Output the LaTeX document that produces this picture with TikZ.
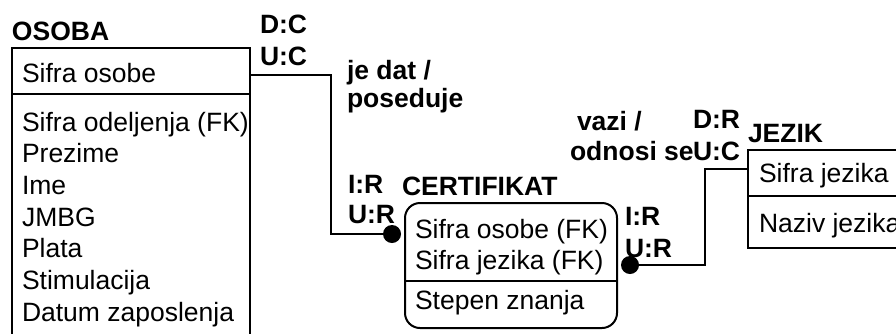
\documentclass[tikz,border=0pt]{standalone}
\usepackage{fontspec}
\setmainfont{Liberation Sans}
\begin{document}
\begin{tikzpicture}[x=1pt,y=-1pt,
  every node/.style={inner sep=0pt,outer sep=0pt},
  txt/.style={anchor=base west,font=\fontsize{26.5}{31}\selectfont},
  lbl/.style={anchor=base west,font=\fontsize{26.5}{31}\selectfont\bfseries},
  entbox/.style={draw,line width=2pt,anchor=north west},
  dot/.style={circle,fill=black,minimum size=18pt},
  conn/.style={line width=2pt}]
\useasboundingbox (0,0) rectangle (896,333);
\clip (0,0) rectangle (896,333);
% OSOBA
\node[lbl] (tosoba) at (12,40) {OSOBA};
\node[entbox,minimum width=238pt,minimum height=320pt] (osoba) at (12,48) {};
\draw[line width=2pt] ([yshift=-46pt]osoba.north west) -- ([yshift=-46pt]osoba.north east);
\node[txt] (o0) at (22,82) {Sifra osobe};
\node[txt] (o1) at (22,131) {Sifra odeljenja (FK)};
\node[txt] (o2) at (22,162.7) {Prezime};
\node[txt] (o3) at (22,194.4) {Ime};
\node[txt] (o4) at (22,226.1) {JMBG};
\node[txt] (o5) at (22,257.8) {Plata};
\node[txt] (o6) at (22,289.5) {Stimulacija};
\node[txt] (o7) at (22,321.2) {Datum zaposlenja};
% CERTIFIKAT
\node[lbl] (tcert) at (402,195) {CERTIFIKAT};
\node[entbox,rounded corners=15pt,minimum width=212pt,minimum height=125pt] (cert) at (405,203) {};
\draw[line width=2pt] ([yshift=-78pt]cert.north west) -- ([yshift=-78pt]cert.north east);
\node[txt] (c0) at (415,238) {Sifra osobe (FK)};
\node[txt] (c1) at (415,269) {Sifra jezika (FK)};
\node[txt] (c2) at (415,309) {Stepen znanja};
% JEZIK
\node[lbl] (tjez) at (748,142) {JEZIK};
\node[entbox,minimum width=200pt,minimum height=98pt] (jezik) at (748,150) {};
\draw[line width=2pt] ([yshift=-46pt]jezik.north west) -- ([yshift=-46pt]jezik.north east);
\node[txt] (j0) at (759,182) {Sifra jezika};
\node[txt] (j1) at (759,232) {Naziv jezika};
% relationship 1
\node[lbl] (dc) at (260,33) {D:C};
\node[lbl] (uc) at (260,65) {U:C};
\node[lbl] (r1a) at (347,79) {je dat /};
\node[lbl] (r1b) at (347,107) {poseduje};
\node[lbl] (ir1) at (348,193) {I:R};
\node[lbl] (ur1) at (348,223) {U:R};
\node[dot] (ldot) at (392,234) {};
\draw[conn] ([yshift=-27pt]osoba.north east) -- ++(81,0) |- (ldot.center);
% relationship 2
\node[lbl] (r2a) at (577,130) {vazi /};
\node[lbl] (r2b) at (570,160) {odnosi se};
\node[lbl] (dr) at (693,128) {D:R};
\node[lbl] (uc2) at (693,160) {U:C};
\node[lbl] (ir2) at (625,225) {I:R};
\node[lbl] (ur2) at (625,257) {U:R};
\node[dot] (rdot) at (630,265) {};
\draw[conn] (rdot.center) -- ++(75,0) |- ([yshift=-19pt]jezik.north west);
\end{tikzpicture}
\end{document}
